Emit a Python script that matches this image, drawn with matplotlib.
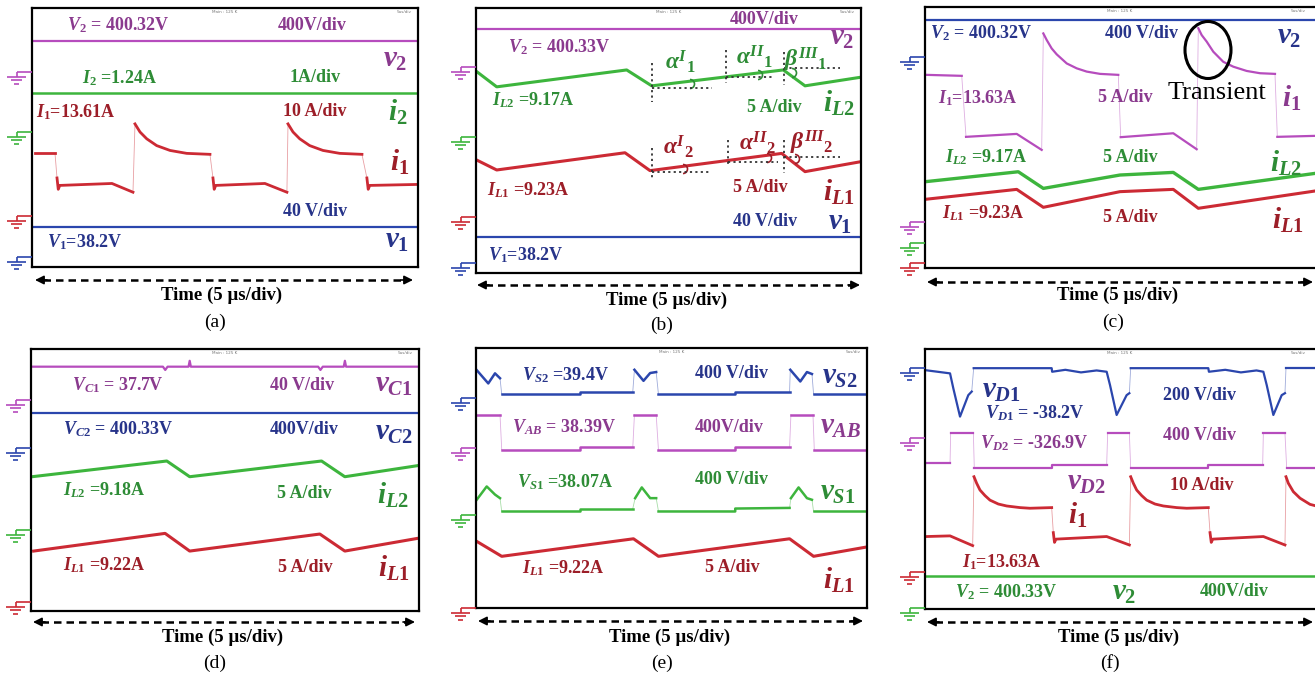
"""
Oscilloscope waveforms (a)-(f), redrawn
"""
import matplotlib.pyplot as plt
from matplotlib.patches import Arc, Ellipse

plt.rcParams['font.family'] = ['Liberation Serif', 'DejaVu Serif']
plt.rcParams['mathtext.fontset'] = 'custom'
plt.rcParams['mathtext.rm'] = 'Liberation Serif:bold'
plt.rcParams['mathtext.it'] = 'Liberation Serif:bold:italic'
plt.rcParams['mathtext.bf'] = 'Liberation Serif:bold'

# ---- data: time in us (5 us/div, 10 div), level in screen divisions (8 div) ----
# (a)
A_V2 = 6.98
A_I2 = 5.38
A_V1 = 1.23
A_I1_T = [[0.39, 2.98], [3.24, 3.40, 3.60, 10.36, 13.08],
          [13.34, 13.99, 14.86, 16.15, 17.88, 20.04, 23.05],
          [23.44, 23.60, 23.80, 30.17, 33.02],
          [33.16, 33.81, 34.68, 35.97, 37.69, 39.86, 42.74],
          [43.38, 43.55, 43.75, 49.86]]
A_I1_Y = [[3.51, 3.51], [2.75, 2.40, 2.52, 2.58, 2.31],
          [4.42, 4.17, 3.96, 3.75, 3.60, 3.51, 3.48],
          [2.75, 2.40, 2.52, 2.58, 2.31],
          [4.42, 4.17, 3.96, 3.75, 3.60, 3.51, 3.48],
          [2.75, 2.40, 2.52, 2.55]]
# (b)
B_V2 = 7.36
B_V1 = 1.08
B_IL2_T = [0.09, 2.69, 19.57, 22.82, 39.91, 42.73, 49.96]
B_IL2_Y = [6.08, 5.62, 6.13, 5.65, 6.13, 5.65, 5.91]
B_IL1_T = [0.09, 2.69, 19.35, 22.60, 39.70, 42.73, 49.96]
B_IL1_Y = [3.41, 3.11, 3.63, 3.09, 3.61, 3.06, 3.36]
# (c)
C_V2 = 7.60
C_I1_T = [[0.22, 4.71], [5.26, 11.76, 14.96],
          [15.17, 15.60, 16.24, 16.88, 18.17, 19.45, 20.73, 22.44, 24.78],
          [25.09, 31.83, 34.83],
          [35.04, 35.47, 36.11, 36.96, 38.24, 39.53, 41.24, 42.95, 44.87],
          [45.17, 50.0]]
C_I1_Y = [[5.92, 5.89], [4.02, 4.11, 3.62],
          [7.19, 6.99, 6.73, 6.55, 6.27, 6.12, 6.02, 5.95, 5.92],
          [4.01, 4.13, 3.64],
          [7.35, 7.14, 6.94, 6.63, 6.32, 6.17, 6.04, 5.97, 5.95],
          [4.02, 4.05]]
C_IL2_T = [0.22, 11.96, 15.17, 25.0, 31.83, 35.04, 50.0]
C_IL2_Y = [2.65, 2.95, 2.44, 2.85, 2.93, 2.41, 2.90]
C_IL1_T = [0.22, 11.76, 15.17, 25.0, 31.83, 35.04, 50.0]
C_IL1_Y = [2.11, 2.41, 1.86, 2.34, 2.41, 1.83, 2.36]
# (d)
D_VC1_T = [0, 17.0, 17.3, 17.6, 20.3, 20.45, 20.6, 37.0, 37.3, 37.6, 40.3, 40.45, 40.6, 50]
D_VC1_Y = [7.46, 7.46, 7.36, 7.46, 7.46, 7.64, 7.46, 7.46, 7.36, 7.46, 7.46, 7.64, 7.46, 7.46]
D_VC2 = 6.04
D_IL2_T = [0.13, 17.5, 20.45, 37.44, 40.44, 49.87]
D_IL2_Y = [4.10, 4.58, 4.10, 4.58, 4.10, 4.44]
D_IL1_T = [0.34, 17.28, 20.45, 37.22, 40.44, 49.87]
D_IL1_Y = [1.83, 2.37, 1.83, 2.35, 1.83, 2.22]
# (e)
E_VS2_T = [[0.09, 1.57, 2.43, 3.07], [3.29, 13.31, 13.31, 20.05], [20.26, 21.42, 22.27, 23.04],
           [23.33, 33.15, 33.15, 40.10], [40.19, 41.47, 42.32, 42.96], [43.17, 49.79]]
E_VS2_Y = [[7.32, 6.91, 7.22, 7.07], [6.58, 6.58, 6.66, 6.66], [7.33, 6.99, 7.23, 7.26],
           [6.58, 6.58, 6.66, 6.66], [7.33, 6.97, 7.26, 7.20], [6.58, 6.58]]
E_VAB_T = [[0.09, 3.07], [3.29, 13.31, 13.31, 20.05], [20.26, 23.04],
           [23.33, 33.15, 33.15, 40.10], [40.27, 43.09], [43.26, 49.79]]
E_VAB_Y = [[5.95, 5.95], [4.87, 4.87, 4.94, 4.94], [5.95, 5.95],
           [4.87, 4.87, 4.94, 4.94], [5.95, 5.95], [4.87, 4.87]]
E_VS1_T = [[0.09, 1.37, 2.43, 3.07], [3.29, 13.31, 13.31, 20.05], [20.35, 21.2, 22.27, 23.04],
           [23.34, 33.15, 33.15, 40.10], [40.27, 41.25, 42.32, 42.96], [43.17, 49.79]]
E_VS1_Y = [[3.33, 3.74, 3.49, 3.38], [2.97, 2.97, 3.06, 3.06], [3.38, 3.71, 3.38, 3.38],
           [2.97, 2.97, 3.06, 3.08], [3.38, 3.71, 3.38, 3.33], [2.97, 2.97]]
E_IL1_T = [0.09, 3.29, 20.14, 23.34, 40.10, 43.17, 49.79]
E_IL1_Y = [2.05, 1.59, 2.13, 1.59, 2.13, 1.59, 1.87]
# (f)
F_VD1_T = [[0.0, 3.21, 3.63, 4.49, 5.55, 5.99],
           [6.24, 16.24, 16.30, 18.0, 20.0, 22.0, 23.29, 23.72, 24.57, 25.85, 26.20],
           [26.37, 36.32, 36.40, 38.5, 40.5, 42.5, 43.38, 43.81, 44.66, 45.73, 46.15],
           [46.28, 50.0]]
F_VD1_Y = [[7.35, 7.25, 6.79, 5.92, 6.58, 6.69],
           [7.41, 7.41, 7.30, 7.36, 7.28, 7.34, 7.30, 6.89, 5.97, 6.58, 6.64],
           [7.41, 7.41, 7.30, 7.36, 7.28, 7.34, 7.30, 6.89, 5.97, 6.58, 6.64],
           [7.41, 7.41]]
F_VD2_T = [[0.21, 3.21], [3.29, 6.20], [6.32, 16.24, 16.24, 23.29], [23.42, 26.20],
           [26.37, 36.32, 36.32, 43.29], [43.38, 46.15], [46.37, 50.0]]
F_VD2_Y = [[4.48, 4.48], [5.41, 5.41], [4.33, 4.33, 4.43, 4.43], [5.41, 5.41],
           [4.33, 4.33, 4.43, 4.43], [5.41, 5.41], [4.33, 4.33]]
F_I1_T = [[0.21, 3.21, 6.11],
          [6.28, 6.62, 7.05, 7.69, 8.33, 9.40, 10.47, 12.18, 13.46, 16.24],
          [16.45, 16.6, 16.8, 23.29, 26.20],
          [26.37, 26.71, 27.14, 27.78, 28.42, 29.49, 30.56, 32.27, 33.55, 36.32],
          [36.54, 36.7, 36.9, 43.38, 46.15],
          [46.28, 46.58, 47.22, 48.08, 49.36, 50.0]]
F_I1_Y = [[2.23, 2.25, 1.95],
          [4.07, 3.87, 3.66, 3.49, 3.35, 3.23, 3.17, 3.12, 3.10, 3.12],
          [2.35, 2.05, 2.15, 2.23, 1.97],
          [4.07, 3.87, 3.66, 3.49, 3.35, 3.23, 3.17, 3.12, 3.10, 3.12],
          [2.35, 2.05, 2.15, 2.23, 1.97],
          [4.07, 3.87, 3.61, 3.41, 3.22, 3.18]]
F_V2 = 1.03

# ---- styles ----
MAG, MAG_T = '#b64cbd', '#8a3a8e'
GRN, GRN_T = '#3db53d', '#2e8c36'
RED, RED_T = '#cc2a34', '#9c1e28'
BLU, BLU_T = '#2b46ad', '#27348a'
W, H = 1315, 674

fig = plt.figure(figsize=(W / 100, H / 100), dpi=100)


def panel(l, t, r, b, right=True):
    ax = fig.add_axes([l / W, 1 - b / H, (r - l) / W, (b - t) / H])
    ax.set_xlim(0, 50)
    ax.set_ylim(0, 8)
    ax.set_xticks([])
    ax.set_yticks([])
    for s in ax.spines.values():
        s.set_linewidth(1.6)
    ax.spines['right'].set_visible(right)
    return ax


def trace(ax, ts, ys, color, lw=2.0):
    if not isinstance(ts[0], list):
        ts, ys = [ts], [ys]
    for k in range(len(ts)):
        ax.plot(ts[k], ys[k], color=color, lw=lw, solid_joinstyle='round')
        if k + 1 < len(ts):
            ax.plot([ts[k][-1], ts[k + 1][0]], [ys[k][-1], ys[k + 1][0]],
                    color=color, lw=0.6, alpha=0.45)


def level(ax, y, color, lw=1.6):
    ax.plot([0, 50], [y, y], color=color, lw=lw)


boxes = {
    'a': (32, 8, 418, 267), 'b': (476, 8, 861, 273), 'c': (925, 7, 1315, 268),
    'd': (31, 349, 419, 611), 'e': (476, 348, 867, 608), 'f': (925, 349, 1315, 609),
}
ax = {k: panel(*v, right=k not in 'cf') for k, v in boxes.items()}

level(ax['a'], A_V2, MAG)
level(ax['a'], A_I2, GRN, 1.8)
trace(ax['a'], A_I1_T, A_I1_Y, RED)
level(ax['a'], A_V1, BLU)

level(ax['b'], B_V2, MAG)
trace(ax['b'], B_IL2_T, B_IL2_Y, GRN, 2.2)
trace(ax['b'], B_IL1_T, B_IL1_Y, RED, 2.2)
level(ax['b'], B_V1, BLU)

level(ax['c'], C_V2, BLU)
trace(ax['c'], C_I1_T, C_I1_Y, MAG, 1.6)
trace(ax['c'], C_IL2_T, C_IL2_Y, GRN, 2.4)
trace(ax['c'], C_IL1_T, C_IL1_Y, RED, 2.2)

trace(ax['d'], D_VC1_T, D_VC1_Y, MAG, 1.6)
level(ax['d'], D_VC2, BLU)
trace(ax['d'], D_IL2_T, D_IL2_Y, GRN, 2.2)
trace(ax['d'], D_IL1_T, D_IL1_Y, RED, 2.2)

trace(ax['e'], E_VS2_T, E_VS2_Y, BLU, 1.8)
trace(ax['e'], E_VAB_T, E_VAB_Y, MAG, 1.8)
trace(ax['e'], E_VS1_T, E_VS1_Y, GRN, 1.8)
trace(ax['e'], E_IL1_T, E_IL1_Y, RED, 2.2)

trace(ax['f'], F_VD1_T, F_VD1_Y, BLU, 1.6)
trace(ax['f'], F_VD2_T, F_VD2_Y, MAG, 1.6)
trace(ax['f'], F_I1_T, F_I1_Y, RED, 2.0)
level(ax['f'], F_V2, GRN, 1.8)

# ---- overlay in pixel coordinates for labels and decorations ----
ov = fig.add_axes([0, 0, 1, 1], zorder=5)
ov.set_xlim(0, W)
ov.set_ylim(H, 0)
ov.axis('off')


def ground(xb, y0, color):
    kw = dict(color=color, lw=1.2, solid_capstyle='butt')
    ov.plot([xb - 15, xb], [y0, y0], **kw)
    ov.plot([xb - 15, xb - 15], [y0, y0 + 5], **kw)
    ov.plot([xb - 25, xb - 6], [y0 + 5, y0 + 5], **kw)
    ov.plot([xb - 21, xb - 10], [y0 + 8.3, y0 + 8.3], **kw)
    ov.plot([xb - 18, xb - 13], [y0 + 11.6, y0 + 11.6], **kw)


grounds = {
    'a': [(72, MAG), (132, GRN), (216, RED), (257, BLU)],
    'b': [(67, MAG), (137, GRN), (217, RED), (263, BLU)],
    'c': [(57, BLU), (222, MAG), (243, GRN), (263, RED)],
    'd': [(400, MAG), (448, BLU), (530, GRN), (602, RED)],
    'e': [(398, BLU), (448, MAG), (515, GRN), (608, RED)],
    'f': [(368, BLU), (438, MAG), (572, RED), (608, GRN)],
}
for k, lst in grounds.items():
    for y0, c in lst:
        ground(boxes[k][0], y0, c)

# scope header scribbles
for k, (l, t, r, b) in boxes.items():
    ov.text(l + 0.5 * (r - l), t + 4, 'Main : 125 K', fontsize=3, color='#777777',
            ha='center', va='center', family='DejaVu Sans')
    ov.text(min(r, 1312) - 14, t + 4, '5us/div', fontsize=3, color='#777777',
            ha='center', va='center', family='DejaVu Sans')

S, BIG = 13, 21
labels = [
    # (a)
    (r'$V_2$ = 400.32V', 67, 25, MAG_T, S), ('400V/div', 278, 25, MAG_T, S),
    (r'$v_2$', 383, 60, MAG_T, BIG),
    (r'$I_2$ =1.24A', 82, 78, GRN_T, S), ('1A/div', 290, 78, GRN_T, S),
    (r'$i_2$', 388, 112, GRN_T, BIG),
    (r'$I_1$=13.61A', 36, 112, RED_T, S), ('10 A/div', 283, 112, RED_T, S),
    (r'$i_1$', 390, 162, RED_T, BIG),
    ('40 V/div', 283, 212, BLU_T, S), (r'$V_1$=38.2V', 47, 242, BLU_T, S),
    (r'$v_1$', 385, 240, BLU_T, BIG),
    # (b)
    ('400V/div', 730, 20, MAG_T, S), (r'$V_2$ = 400.33V', 508, 47, MAG_T, S),
    (r'$v_2$', 830, 38, MAG_T, BIG),
    (r'$I_{L2}$ =9.17A', 492, 100, GRN_T, S), ('5 A/div', 747, 107, GRN_T, S),
    (r'$i_{L2}$', 823, 103, GRN_T, BIG),
    (r'$I_{L1}$ =9.23A', 487, 190, RED_T, S), ('5 A/div', 733, 187, RED_T, S),
    (r'$i_{L1}$', 823, 192, RED_T, BIG),
    ('40 V/div', 733, 222, BLU_T, S), (r'$v_1$', 828, 222, BLU_T, BIG),
    (r'$V_1$=38.2V', 488, 255, BLU_T, S),
    # (c)
    (r'$V_2$ = 400.32V', 930, 33, BLU_T, S), ('400 V/div', 1105, 33, BLU_T, S),
    (r'$v_2$', 1277, 37, BLU_T, BIG),
    (r'$I_1$=13.63A', 938, 98, MAG_T, S), ('5 A/div', 1098, 98, MAG_T, S),
    (r'$i_1$', 1282, 98, MAG_T, BIG),
    (r'$I_{L2}$ =9.17A', 945, 157, GRN_T, S), ('5 A/div', 1103, 157, GRN_T, S),
    (r'$i_{L2}$', 1270, 163, GRN_T, BIG),
    (r'$I_{L1}$ =9.23A', 942, 213, RED_T, S), ('5 A/div', 1103, 218, RED_T, S),
    (r'$i_{L1}$', 1272, 220, RED_T, BIG),
    # (d)
    (r'$V_{C1}$ = 37.7V', 72, 385, MAG_T, S), ('40 V/div', 270, 385, MAG_T, S),
    (r'$v_{C1}$', 375, 385, MAG_T, BIG),
    (r'$V_{C2}$ = 400.33V', 63, 429, BLU_T, S), ('400V/div', 270, 429, BLU_T, S),
    (r'$v_{C2}$', 375, 432, BLU_T, BIG),
    (r'$I_{L2}$ =9.18A', 63, 490, GRN_T, S), ('5 A/div', 277, 493, GRN_T, S),
    (r'$i_{L2}$', 377, 495, GRN_T, BIG),
    (r'$I_{L1}$ =9.22A', 63, 565, RED_T, S), ('5 A/div', 278, 567, RED_T, S),
    (r'$i_{L1}$', 378, 568, RED_T, BIG),
    # (e)
    (r'$V_{S2}$ =39.4V', 522, 375, BLU_T, S), ('400 V/div', 695, 373, BLU_T, S),
    (r'$v_{S2}$', 822, 377, BLU_T, BIG),
    (r'$V_{AB}$ = 38.39V', 512, 427, MAG_T, S), ('400V/div', 695, 427, MAG_T, S),
    (r'$v_{AB}$', 820, 427, MAG_T, BIG),
    (r'$V_{S1}$ =38.07A', 517, 482, GRN_T, S), ('400 V/div', 695, 480, GRN_T, S),
    (r'$v_{S1}$', 820, 492, GRN_T, BIG),
    (r'$I_{L1}$ =9.22A', 522, 568, RED_T, S), ('5 A/div', 705, 567, RED_T, S),
    (r'$i_{L1}$', 823, 580, RED_T, BIG),
    # (f)
    (r'$v_{D1}$', 982, 390, BLU_T, BIG), (r'$V_{D1}$ = -38.2V', 985, 413, BLU_T, S),
    ('200 V/div', 1163, 395, BLU_T, S),
    ('400 V/div', 1163, 435, MAG_T, S), (r'$V_{D2}$ = -326.9V', 980, 443, MAG_T, S),
    (r'$v_{D2}$', 1067, 482, MAG_T, BIG),
    ('10 A/div', 1170, 485, RED_T, S), (r'$i_1$', 1068, 515, RED_T, BIG),
    (r'$I_1$=13.63A', 962, 562, RED_T, S),
    (r'$V_2$ = 400.33V', 955, 592, GRN_T, S), (r'$v_2$', 1112, 592, GRN_T, BIG),
    ('400V/div', 1200, 592, GRN_T, S),
]
for txt, x, y, c, fs in labels:
    ov.text(x, y, txt, color=c, fontsize=fs, fontweight='bold', ha='left', va='center')

# (b) angle construction lines and marks
dot = dict(ls=(0, (1.2, 1.8)), lw=1.3, color='#333333')
for x, y1, y2, yh, xh in [(652, 63, 102, 88, 712), (726, 50, 83, 77, 773), (784, 52, 85, 68, 840),
                          (652, 148, 180, 172, 710), (728, 140, 167, 162, 778), (784, 140, 173, 157, 840)]:
    ov.plot([x, x], [y1, y2], **dot)
    ov.plot([x, xh], [yh, yh], **dot)
for (x, y), c in [((690, 84), GRN_T), ((758, 75), GRN_T), ((792, 73), GRN_T),
                  ((683, 169), RED_T), ((767, 158), RED_T), ((795, 159), RED_T)]:
    ov.add_patch(Arc((x, y), 9, 9, theta1=-90, theta2=90, color=c, lw=1.2))
for txt, x, y, c in [(r'$\alpha^{I}{}_{1}$', 680, 62, GRN_T), (r'$\alpha^{II}{}_{1}$', 754, 57, GRN_T),
                     (r'$\beta^{III}{}_{1}$', 806, 60, GRN_T), (r'$\alpha^{I}{}_{2}$', 678, 147, RED_T),
                     (r'$\alpha^{II}{}_{2}$', 757, 143, RED_T), (r'$\beta^{III}{}_{2}$', 812, 143, RED_T)]:
    ov.text(x, y, txt, color=c, fontsize=17, ha='center', va='center')

# (c) transient marker
ov.add_patch(Ellipse((1208, 50), 46, 57, fill=False, color='black', lw=2.2))
ov.text(1168, 93, 'Transient', fontsize=19, color='black', ha='left', va='center')

# time arrows and captions
captions = {
    'a': (35, 413, 280, 222, 295, 215, 322), 'b': (477, 860, 285, 667, 300, 662, 325),
    'c': (927, 1313, 282, 1118, 295, 1113, 322), 'd': (33, 415, 622, 223, 637, 215, 663),
    'e': (478, 863, 621, 670, 637, 662, 663), 'f': (927, 1313, 622, 1119, 637, 1110, 663),
}
for k, (x1, x2, ya, xt, yt, xc, yc) in captions.items():
    ov.plot([x1 + 8, x2 - 8], [ya, ya], color='black', lw=1.8, ls=(0, (3, 2)))
    for xe, xs in [(x1, x1 + 12), (x2, x2 - 12)]:
        ov.annotate('', xy=(xe, ya), xytext=(xs, ya),
                    arrowprops=dict(arrowstyle='-|>', color='black', lw=1.2,
                                    mutation_scale=13, shrinkA=0, shrinkB=0))
    ov.text(xt, yt, 'Time (5 \u00b5s/div)', fontsize=13.5, fontweight='bold',
            ha='center', va='center')
    ov.text(xc, yc, '(%s)' % k, fontsize=14, ha='center', va='center')

fig.savefig('out.png', dpi=100)
